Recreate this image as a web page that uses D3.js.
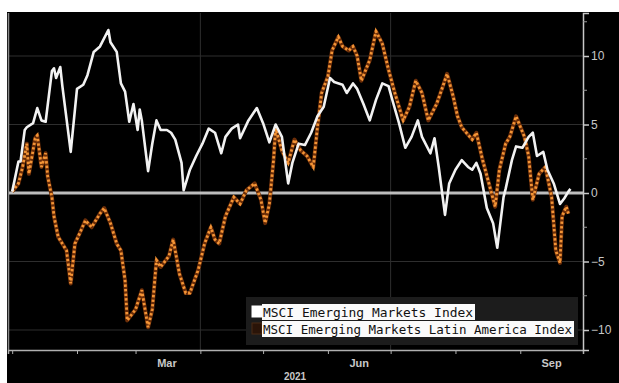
<!DOCTYPE html>
<html>
<head>
<meta charset="utf-8">
<script src="https://cdn.jsdelivr.net/npm/d3@7"></script>
<style>
  body { margin: 0; background: #fff; }
  svg { display: block; }
</style>
</head>
<body>
<div class="container"></div>
<script>
var width = 619;
var height = 383;

// MSCI Emerging Markets Index, % change YTD
var emDates = ['2021-01-01','2021-01-04','2021-01-05','2021-01-07','2021-01-08','2021-01-11','2021-01-13','2021-01-15','2021-01-17','2021-01-20',
  '2021-01-21','2021-01-22','2021-01-24','2021-01-25','2021-01-29','2021-02-01','2021-02-04','2021-02-06','2021-02-09','2021-02-12',
  '2021-02-16','2021-02-17','2021-02-20','2021-02-22','2021-02-24','2021-02-26','2021-02-28','2021-03-02','2021-03-03','2021-03-04',
  '2021-03-07','2021-03-09','2021-03-11','2021-03-13','2021-03-16','2021-03-18','2021-03-20','2021-03-23','2021-03-24','2021-03-27',
  '2021-03-30','2021-04-02','2021-04-05','2021-04-08','2021-04-11','2021-04-13','2021-04-16','2021-04-19','2021-04-20','2021-04-24',
  '2021-04-28','2021-05-01','2021-05-04','2021-05-07','2021-05-10','2021-05-13','2021-05-15','2021-05-18','2021-05-21','2021-05-24',
  '2021-05-27','2021-05-30','2021-06-02','2021-06-04','2021-06-08','2021-06-10','2021-06-13','2021-06-15','2021-06-18','2021-06-21',
  '2021-06-24','2021-06-27','2021-06-30','2021-07-02','2021-07-05','2021-07-08','2021-07-11','2021-07-14','2021-07-16','2021-07-20',
  '2021-07-22','2021-07-24','2021-07-27','2021-07-29','2021-08-01','2021-08-04','2021-08-07','2021-08-09','2021-08-11','2021-08-13',
  '2021-08-16','2021-08-19','2021-08-21','2021-08-24','2021-08-25','2021-08-28','2021-08-30','2021-09-02','2021-09-05','2021-09-07',
  '2021-09-09','2021-09-12','2021-09-14','2021-09-17','2021-09-20','2021-09-22','2021-09-24','2021-09-25'];
var emValues = [0.1,2.3,2.3,4.6,4.8,5.1,6.2,5.3,5.2,8.9,
  9.1,8.4,9.2,7.8,3.0,7.6,7.9,8.6,10.3,10.7,
  11.9,11.0,10.3,8.0,7.4,5.2,6.5,4.6,6.1,5.3,
  1.6,3.6,5.3,4.6,4.6,4.4,3.9,2.2,0.2,1.7,
  2.7,3.6,4.7,4.4,2.9,4.1,4.7,5.0,4.0,5.3,
  6.2,5.1,3.7,5.0,4.1,0.7,2.2,3.6,3.5,4.4,
  5.6,6.3,8.4,8.1,7.9,7.3,8.0,7.6,6.5,5.3,
  6.8,8.0,7.8,6.7,5.1,3.3,4.1,5.3,4.1,2.9,
  4.0,1.9,-1.6,0.7,1.7,2.4,1.9,1.7,2.2,1.4,
  -1.1,-2.2,-4.0,-0.3,0.3,2.4,3.4,3.3,4.1,4.4,
  2.7,3.0,1.7,0.7,-0.8,-0.4,0.1,0.3];

// MSCI Emerging Markets Latin America Index, % change YTD
var latamDates = ['2021-01-01','2021-01-04','2021-01-06','2021-01-08','2021-01-09','2021-01-12','2021-01-13','2021-01-15','2021-01-17','2021-01-18',
  '2021-01-20','2021-01-21','2021-01-23','2021-01-25','2021-01-27','2021-01-29','2021-01-31','2021-02-03','2021-02-05','2021-02-08',
  '2021-02-12','2021-02-14','2021-02-17','2021-02-20','2021-02-22','2021-02-24','2021-02-25','2021-03-01','2021-03-04','2021-03-07',
  '2021-03-09','2021-03-11','2021-03-13','2021-03-17','2021-03-19','2021-03-22','2021-03-25','2021-03-27','2021-03-31','2021-04-03',
  '2021-04-06','2021-04-08','2021-04-10','2021-04-13','2021-04-17','2021-04-20','2021-04-23','2021-04-27','2021-04-30','2021-05-02',
  '2021-05-04','2021-05-06','2021-05-07','2021-05-10','2021-05-13','2021-05-16','2021-05-19','2021-05-22','2021-05-25','2021-05-27',
  '2021-05-29','2021-06-01','2021-06-03','2021-06-06','2021-06-08','2021-06-11','2021-06-13','2021-06-15','2021-06-17','2021-06-21',
  '2021-06-24','2021-06-27','2021-06-30','2021-07-03','2021-07-07','2021-07-10','2021-07-13','2021-07-16','2021-07-19','2021-07-23',
  '2021-07-26','2021-07-28','2021-07-31','2021-08-02','2021-08-04','2021-08-09','2021-08-11','2021-08-14','2021-08-17','2021-08-20',
  '2021-08-22','2021-08-25','2021-08-27','2021-08-30','2021-09-03','2021-09-05','2021-09-07','2021-09-10','2021-09-13','2021-09-16',
  '2021-09-18','2021-09-20','2021-09-21','2021-09-23','2021-09-24'];
var latamValues = [0.1,0.7,1.9,3.6,1.4,4.0,4.2,1.9,2.9,1.2,
  -0.3,-1.7,-3.2,-3.7,-4.2,-6.6,-3.7,-2.7,-2.0,-2.5,
  -1.5,-1.1,-2.2,-3.7,-4.2,-6.4,-9.3,-8.5,-7.1,-9.8,
  -8.5,-4.9,-5.4,-4.6,-3.4,-5.9,-7.3,-7.3,-5.6,-3.7,
  -2.5,-3.4,-3.7,-1.7,-0.3,-0.8,0.2,0.7,-0.5,-2.2,
  -0.8,2.4,4.7,3.1,2.2,3.9,3.1,2.7,1.9,4.8,
  7.3,8.5,10.4,11.4,10.7,10.4,10.7,10.0,8.2,9.7,
  11.8,10.9,9.0,7.3,5.3,6.3,8.2,7.3,5.3,6.5,
  7.8,8.7,7.0,5.6,4.8,3.9,4.4,2.4,0.7,-1.0,
  1.7,3.6,4.1,5.6,4.1,2.7,-0.5,1.4,1.9,-0.3,
  -4.2,-5.1,-1.7,-1.0,-1.5];

var yTicks = [10, 5, 0, -5, -10];
var yMinorTicks = [12.5, 7.5, 2.5, -2.5, -7.5];
var gridValues = [10, 5, -5, -10];
var monthTicks = ['2021-01-01','2021-02-01','2021-03-01','2021-04-01','2021-05-01','2021-06-01','2021-07-01','2021-08-01','2021-09-01'];
var gridDates = ['2021-04-01','2021-07-01'];
var monthLabels = ['Mar', 'Jun', 'Sep'];
var monthLabelDates = ['2021-03-16','2021-06-16','2021-09-16'];
var yearLabel = '2021';
var seriesNames = ['MSCI Emerging Markets Index', 'MSCI Emerging Markets Latin America Index'];

var parse = d3.timeParse('%Y-%m-%d');

var draw = function() {
  var svg = d3.select('.container').append('svg')
    .attr('width', width)
    .attr('height', height);

  // background: black panel with white strip top/left
  svg.append('rect').attr('width', width).attr('height', height).attr('fill', '#fff');
  svg.append('rect').attr('x', 7).attr('y', 12).attr('width', width - 7).attr('height', height - 12).attr('fill', '#000');

  var x = d3.scaleTime()
    .domain([parse('2020-12-30'), parse('2021-10-01')])
    .range([8, 583]);

  var y = d3.scaleLinear()
    .domain([-11.46, 13.14])
    .range([350, 13]);

  // grid
  svg.append('g').selectAll('line').data(gridValues).enter().append('line')
    .attr('x1', 9).attr('x2', 583)
    .attr('y1', function(d) { return y(d); }).attr('y2', function(d) { return y(d); })
    .attr('stroke', '#2e2e2e').attr('stroke-width', 1);

  svg.append('g').selectAll('line').data(gridDates).enter().append('line')
    .attr('x1', function(d) { return x(parse(d)); }).attr('x2', function(d) { return x(parse(d)); })
    .attr('y1', 13).attr('y2', 350)
    .attr('stroke', '#2e2e2e').attr('stroke-width', 1);

  // left frame
  svg.append('line').attr('x1', 8.5).attr('x2', 8.5).attr('y1', 13).attr('y2', 350)
    .attr('stroke', '#8a8a8a').attr('stroke-width', 1.5);

  // x axis
  var xAxis = d3.axisBottom(x)
    .tickValues(monthTicks.map(parse))
    .tickSize(4)
    .tickFormat('');
  var gx = svg.append('g').attr('transform', 'translate(0,350)').call(xAxis);
  gx.select('.domain').attr('stroke', '#b0b0b0').attr('stroke-width', 1.5);
  gx.selectAll('.tick line').attr('stroke', '#b0b0b0');

  svg.append('g').selectAll('text').data(monthLabels).enter().append('text')
    .attr('x', function(d, i) { return x(parse(monthLabelDates[i])); })
    .attr('y', 367)
    .attr('text-anchor', 'middle')
    .attr('fill', '#c8c8c8')
    .style('font', 'bold 11px "Liberation Sans", Arial, sans-serif')
    .text(function(d) { return d; });

  svg.append('text')
    .attr('x', 295).attr('y', 380)
    .attr('text-anchor', 'middle')
    .attr('fill', '#c8c8c8')
    .style('font', 'bold 10px "Liberation Sans", Arial, sans-serif')
    .text(yearLabel);

  // y axis on the right
  var yAxis = d3.axisRight(y)
    .tickValues(yTicks)
    .tickSize(6)
    .tickPadding(2)
    .tickFormat(d3.format('d'));
  var gy = svg.append('g').attr('transform', 'translate(583,0)').call(yAxis);
  gy.select('.domain').attr('stroke', '#c8c8c8').attr('stroke-width', 1.5);
  gy.selectAll('.tick line').attr('stroke', '#c8c8c8').attr('stroke-width', 1.5);
  gy.selectAll('.tick text')
    .attr('fill', '#c8c8c8')
    .style('font', '12px "Liberation Sans", Arial, sans-serif');

  svg.append('g').attr('transform', 'translate(583,0)')
    .selectAll('line').data(yMinorTicks).enter().append('line')
    .attr('x1', 0).attr('x2', 4)
    .attr('y1', function(d) { return y(d); }).attr('y2', function(d) { return y(d); })
    .attr('stroke', '#9a9a9a');

  // zero line
  svg.append('line')
    .attr('x1', 9).attr('x2', 583)
    .attr('y1', y(0)).attr('y2', y(0))
    .attr('stroke', '#bdbdbd').attr('stroke-width', 3);

  var line = d3.line()
    .x(function(d) { return x(d.date); })
    .y(function(d) { return y(d.value); });

  var latam = latamDates.map(function(d, i) { return {date: parse(d), value: latamValues[i]}; });
  var em = emDates.map(function(d, i) { return {date: parse(d), value: emValues[i]}; });

  // dotted orange series
  svg.append('path').datum(latam)
    .attr('d', line)
    .attr('fill', 'none')
    .attr('stroke', '#6a2d08')
    .attr('stroke-width', 4)
    .attr('stroke-linejoin', 'round');
  svg.append('path').datum(latam)
    .attr('d', line)
    .attr('fill', 'none')
    .attr('stroke', '#f39436')
    .attr('stroke-width', 2.8)
    .attr('stroke-dasharray', '2.4,2.2');

  svg.append('path').datum(em)
    .attr('d', line)
    .attr('fill', 'none')
    .attr('stroke', '#f2f2f2')
    .attr('stroke-width', 2.6)
    .attr('stroke-linejoin', 'round');

  // legend
  var legend = svg.append('g');
  legend.append('rect')
    .attr('x', 246).attr('y', 297).attr('width', 332).attr('height', 48)
    .attr('fill', '#1c1c1c');

  var rows = [
    {name: seriesNames[0], y: 304, w: 213, sq: '#ffffff', sqStroke: '#ffffff'},
    {name: seriesNames[1], y: 321, w: 312, sq: '#2a1408', sqStroke: '#4a2a14'}
  ];
  rows.forEach(function(r) {
    legend.append('rect')
      .attr('x', 252).attr('y', r.y + 2).attr('width', 10).attr('height', 11)
      .attr('fill', r.sq).attr('stroke', r.sqStroke);
    legend.append('rect')
      .attr('x', 262).attr('y', r.y).attr('width', r.w).attr('height', 16)
      .attr('fill', '#fafafa');
    legend.append('text')
      .attr('x', 263).attr('y', r.y + 12.5)
      .attr('textLength', r.w - 3)
      .attr('lengthAdjust', 'spacingAndGlyphs')
      .attr('fill', '#111')
      .style('font', '12.5px "DejaVu Sans Mono", monospace')
      .text(r.name);
  });
};

window.onload = draw;
</script>
</body>
</html>
